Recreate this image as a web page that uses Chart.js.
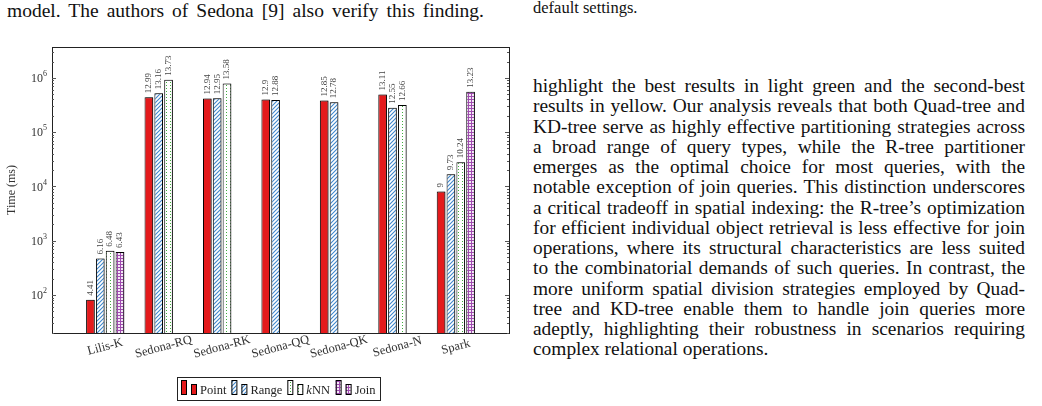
<!DOCTYPE html>
<html>
<head>
<meta charset="utf-8">
<script src="https://cdn.jsdelivr.net/npm/chart.js@4.4.1/dist/chart.umd.min.js"></script>
<style>
  body { margin: 0; background: #fff; width: 1042px; height: 406px; overflow: hidden; position: relative;
         font-family: "Liberation Serif", "Times New Roman", serif; color: #111; }
  .ln { white-space: nowrap; text-align: justify; text-align-last: justify; }
  .ln.last { text-align-last: left; }
  #topleft { position: absolute; left: 7px; top: 0; width: 477px; font-size: 19.5px; line-height: 21px; }
  #caption { position: absolute; left: 533px; top: -1px; font-size: 16.5px; line-height: 18px; }
  #para { position: absolute; left: 533px; top: 76px; width: 492px; font-size: 19.4px; line-height: 20.25px; }
  #wrap { position: absolute; left: 0; top: 30px; width: 520px; height: 376px; }
</style>
</head>
<body>
<div id="topleft"><div class="ln">model. The authors of Sedona [9] also verify this finding.</div></div>
<div id="caption">default settings.</div>
<div id="para">
  <div class="ln">highlight the best results in light green and the second-best</div>
  <div class="ln">results in yellow. Our analysis reveals that both Quad-tree and</div>
  <div class="ln">KD-tree serve as highly effective partitioning strategies across</div>
  <div class="ln">a broad range of query types, while the R-tree partitioner</div>
  <div class="ln">emerges as the optimal choice for most queries, with the</div>
  <div class="ln">notable exception of join queries. This distinction underscores</div>
  <div class="ln">a critical tradeoff in spatial indexing: the R-tree’s optimization</div>
  <div class="ln">for efficient individual object retrieval is less effective for join</div>
  <div class="ln">operations, where its structural characteristics are less suited</div>
  <div class="ln">to the combinatorial demands of such queries. In contrast, the</div>
  <div class="ln">more uniform spatial division strategies employed by Quad-</div>
  <div class="ln">tree and KD-tree enable them to handle join queries more</div>
  <div class="ln">adeptly, highlighting their robustness in scenarios requiring</div>
  <div class="ln last">complex relational operations.</div>
</div>
<div id="wrap"><canvas id="grafico"></canvas></div>
<script>
// dados do grafico (tempo em ms, escala log)
const categories = ['Lilis-K', 'Sedona-RQ', 'Sedona-RK', 'Sedona-QQ', 'Sedona-QK', 'Sedona-N', 'Spark'];
const seriesNames = ['Point', 'Range', 'kNN', 'Join'];

const pointMs = [82, 438000, 417000, 400000, 381000, 494000, 8100];
const rangeMs = [473, 519000, 421000, 392000, 355000, 282000, 16800];
const knnMs   = [652, 918000, 790000, null, null, 315000, 28000];
const joinMs  = [620, null, null, null, null, null, 557000];

// rotulos impressos em cima das barras
const pointLabels = ['4.41', '12.99', '12.94', '12.9', '12.85', '13.11', '9'];
const rangeLabels = ['6.16', '13.16', '12.95', '12.88', '12.78', '12.55', '9.73'];
const knnLabels   = ['6.48', '13.73', '13.58', null, null, '12.66', '10.24'];
const joinLabels  = ['6.43', null, null, null, null, null, '13.23'];

const yTickExps = [2, 3, 4, 5, 6];

const ctx = document.getElementById('grafico').getContext('2d');
const FONT = '"Liberation Serif", "Times New Roman", serif';
Chart.defaults.font.family = FONT;

// padroes de preenchimento
function makePattern(kind) {
  const c = document.createElement('canvas');
  const p = c.getContext('2d');
  if (kind === 'lines') {
    c.width = 4; c.height = 4;
    p.fillStyle = '#ffffff'; p.fillRect(0, 0, 4, 4);
    p.strokeStyle = '#3f86cc'; p.lineWidth = 1.1;
    p.beginPath();
    p.moveTo(-1, 5); p.lineTo(5, -1);
    p.moveTo(-1, 1); p.lineTo(1, -1);
    p.moveTo(3, 5); p.lineTo(5, 3);
    p.stroke();
  } else if (kind === 'dots') {
    c.width = 4; c.height = 3;
    p.fillStyle = '#ffffff'; p.fillRect(0, 0, 4, 3);
    p.fillStyle = '#3fae3c'; p.fillRect(2, 1, 1, 1);
  } else if (kind === 'grid') {
    c.width = 3; c.height = 3;
    p.fillStyle = '#f4e8f6'; p.fillRect(0, 0, 3, 3);
    p.fillStyle = '#a04cb0'; p.fillRect(0, 0, 3, 1); p.fillRect(0, 0, 1, 3);
  }
  return ctx.createPattern(c, 'repeat');
}

const fills = ['#e41a1c', makePattern('lines'), makePattern('dots'), makePattern('grid')];
const allValues = [pointMs, rangeMs, knnMs, joinMs];
const allLabels = [pointLabels, rangeLabels, knnLabels, joinLabels];

const datasets = seriesNames.map((name, s) => ({
  label: name,
  data: allValues[s].map((v, i) => ({ x: i, y: v })),
  backgroundColor: fills[s],
  borderColor: '#000',
  borderWidth: 1,
  categoryPercentage: 0.74,
  barPercentage: 0.88
}));

const decor = {
  id: 'decor',
  beforeDatasetDraw(chart) {
    const c = chart.ctx;
    c.save();
    c.shadowColor = 'rgba(0,0,0,0.35)';
    c.shadowOffsetX = 1.5;
    c.shadowOffsetY = 0;
    c.shadowBlur = 0;
  },
  afterDatasetDraw(chart) {
    chart.ctx.restore();
  },
  afterDatasetsDraw(chart) {
    const c = chart.ctx;
    // valores em cima das barras
    c.save();
    c.font = '9px ' + FONT;
    c.fillStyle = '#444';
    c.textAlign = 'left';
    c.textBaseline = 'middle';
    chart.data.datasets.forEach((ds, s) => {
      chart.getDatasetMeta(s).data.forEach((bar, i) => {
        const txt = allLabels[s][i];
        if (!txt || ds.data[i].y == null) return;
        c.save();
        c.translate(bar.x, bar.y - 4);
        c.rotate(-Math.PI / 2);
        c.fillText(txt, 0, 0);
        c.restore();
      });
    });
    c.restore();
  },
  afterDraw(chart) {
    const c = chart.ctx;
    const a = chart.chartArea;
    const x = chart.scales.x, y = chart.scales.y;
    c.save();
    c.strokeStyle = '#222';
    c.lineWidth = 1;
    c.strokeRect(Math.round(a.left) + 0.5, Math.round(a.top) + 0.5,
                 Math.round(a.right - a.left), Math.round(a.bottom - a.top));
    // ticks da escala log (para dentro, dos dois lados)
    c.strokeStyle = '#555';
    c.beginPath();
    for (let e = 1; e <= 6; e++) {
      for (let m = 1; m <= 9; m++) {
        const v = m * Math.pow(10, e);
        if (v < y.min || v > y.max) continue;
        const py = Math.round(y.getPixelForValue(v)) + 0.5;
        const len = m === 1 ? 4 : 2;
        c.moveTo(a.left, py); c.lineTo(a.left + len, py);
        c.moveTo(a.right, py); c.lineTo(a.right - len, py);
      }
    }
    c.stroke();
    // rotulos 10^n
    c.fillStyle = '#333';
    c.textBaseline = 'middle';
    yTickExps.forEach(e => {
      const py = y.getPixelForValue(Math.pow(10, e));
      c.font = '8px ' + FONT;
      c.textAlign = 'right';
      const sup = String(e);
      const sw = c.measureText(sup).width;
      c.fillText(sup, a.left - 5, py - 4);
      c.font = '12px ' + FONT;
      c.fillText('10', a.left - 5 - sw, py + 1);
    });
    // titulo do eixo y
    c.save();
    c.translate(12, (a.top + a.bottom) / 2);
    c.rotate(-Math.PI / 2);
    c.font = '12px ' + FONT;
    c.textAlign = 'center';
    c.fillText('Time (ms)', 0, 0);
    c.restore();
    // categorias (giradas)
    c.font = '12.5px ' + FONT;
    c.textAlign = 'center';
    categories.forEach((cat, i) => {
      c.save();
      c.translate(x.getPixelForValue(i), a.bottom + 14);
      c.rotate(-15 * Math.PI / 180);
      c.fillText(cat, 0, 0);
      c.restore();
    });
    // legenda
    const top = a.bottom + 44, h = 23;
    c.font = '12.5px ' + FONT;
    const items = seriesNames.map(n => c.measureText(n).width);
    const gap = 5;
    let total = 4;
    items.forEach(w => total += 19 + w + gap);
    const left = Math.round((a.left + a.right) / 2 - total / 2) - 2;
    c.strokeStyle = '#222';
    c.strokeRect(left + 0.5, top + 0.5, Math.round(total), h);
    let cx = left + 4;
    seriesNames.forEach((n, s) => {
      const base = top + 17;
      [[0, 14], [10, 10]].forEach(([dx, bh]) => {
        c.fillStyle = fills[s];
        c.fillRect(cx + dx, base - bh, 5, bh);
        c.strokeStyle = '#000';
        c.strokeRect(cx + dx + 0.5, base - bh + 0.5, 5, bh);
      });
      cx += 19;
      c.fillStyle = '#222';
      c.textAlign = 'left';
      c.textBaseline = 'alphabetic';
      if (n === 'kNN') {
        c.font = 'italic 12.5px ' + FONT;
        c.fillText('k', cx, base);
        const kw = c.measureText('k').width;
        c.font = '12.5px ' + FONT;
        c.fillText('NN', cx + kw, base);
      } else {
        c.fillText(n, cx, base);
      }
      cx += items[s] + gap;
    });
    c.restore();
  }
};

const graficoTempo = new Chart(ctx, {
  type: 'bar',
  data: { datasets: datasets },
  options: {
    responsive: true,
    maintainAspectRatio: false,
    animation: false,
    layout: { padding: { top: 17, right: 11, left: 0, bottom: 0 } },
    plugins: {
      legend: { display: false },
      tooltip: { enabled: false }
    },
    scales: {
      x: {
        type: 'linear',
        min: -0.91,
        max: 6.91,
        offset: false,
        grid: { display: false },
        border: { display: false },
        ticks: { display: false },
        afterFit(scale) { scale.height = 73; }
      },
      y: {
        type: 'logarithmic',
        min: 20,
        max: 3.7e6,
        grid: { display: false },
        border: { display: false },
        ticks: { display: false },
        afterFit(scale) { scale.width = 52; }
      }
    }
  },
  plugins: [decor]
});
</script>
</body>
</html>
